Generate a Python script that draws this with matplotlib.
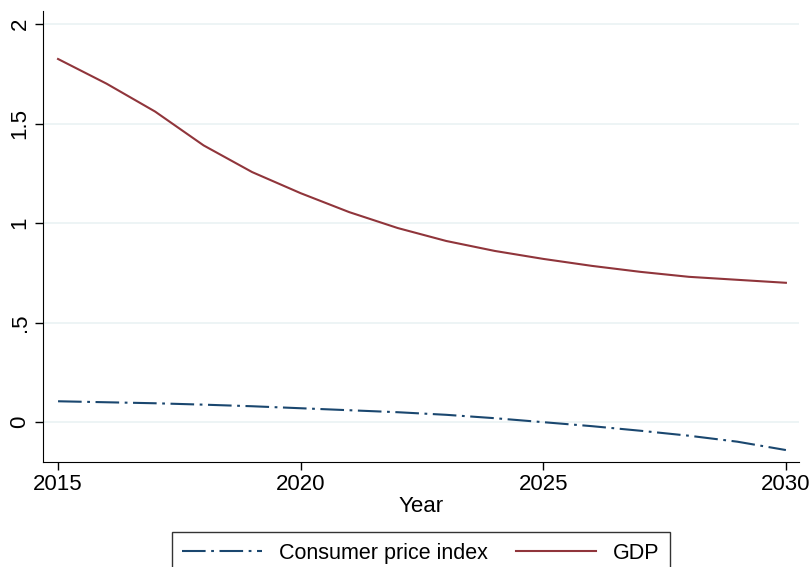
import matplotlib as mat
mat.use('Agg')
import matplotlib.pyplot as plt

mat.rcParams.update({'font.size': 16, 'font.family': 'Liberation Sans',
                     'lines.scale_dashes': False})

years = list(range(2015, 2031))
gdp = [1.824, 1.70, 1.56, 1.39, 1.256, 1.15, 1.055, 0.975, 0.91, 0.86,
       0.82, 0.785, 0.755, 0.73, 0.715, 0.70]
cpi = [0.105, 0.10, 0.095, 0.088, 0.08, 0.07, 0.06, 0.05, 0.037, 0.02,
       0.0, -0.02, -0.043, -0.068, -0.098, -0.14]
yticks = [0, 0.5, 1, 1.5, 2]
ylabels = ['0', '.5', '1', '1.5', '2']
xticks = [2015, 2020, 2025, 2030]

fig = plt.figure(figsize=(8.09, 5.67), dpi=100)
ax = fig.add_axes([43/809, 105/567, 756/809, 451/567])

ax.plot(years, cpi, color='#1a476f', lw=1.5, dashes=(17, 4, 2, 4),
        label='Consumer price index')
ax.plot(years, gdp, color='#90353b', lw=1.5, label='GDP')

ax.set_xlim(2014.69, 2030.27)
ax.set_ylim(-0.2, 2.065)
ax.set_yticks(yticks)
ax.set_yticklabels(ylabels, rotation=90, va='center')
ax.set_xticks(xticks)
ax.grid(True, axis='y', color='#eaf2f3', lw=1.2)
ax.set_axisbelow(True)
for s in ['top', 'right']:
    ax.spines[s].set_visible(False)
ax.tick_params(length=6, width=1, pad=3)
ax.set_xlabel('Year', labelpad=0)

leg = fig.legend(loc='upper center', bbox_to_anchor=(421/809, 1 - 532/567),
                 ncol=2, frameon=True, fancybox=False, edgecolor='black',
                 handlelength=3.7, columnspacing=1.3, borderpad=0.5,
                 borderaxespad=0, fontsize=15.5)
leg.get_frame().set_linewidth(1)

fig.savefig('out.png', dpi=100)
